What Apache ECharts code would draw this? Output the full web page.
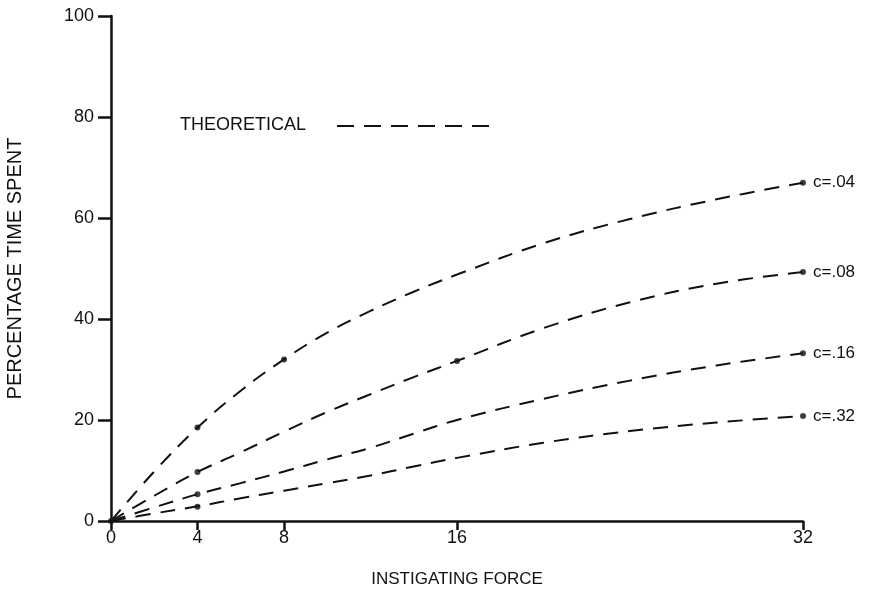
<!DOCTYPE html>
<html>
<head>
<meta charset="utf-8">
<script src="https://cdn.jsdelivr.net/npm/echarts@6/dist/echarts.min.js"></script>
<style>
  html, body { margin: 0; padding: 0; background: #fff; }
  #chart { width: 869px; height: 594px; }
</style>
</head>
<body>
<div id="chart"></div>
<script>
// Instigating force sampled along each theoretical curve
const forceSteps = [0, 2, 4, 6, 8, 10, 12, 14, 16, 20, 24, 28, 32];

// Percentage of time spent for each value of c
const curveC04 = [0, 9.8, 18.5, 25.8, 32, 37.3, 41.6, 45.4, 48.8, 55, 59.8, 63.7, 67];
const curveC08 = [0, 5, 9.7, 13.6, 17.7, 21.6, 25.1, 28.5, 31.7, 38.2, 43.3, 47, 49.3];
const curveC16 = [0, 2.7, 5.3, 7.5, 9.8, 12.2, 14.5, 17.3, 20, 24.2, 27.8, 30.8, 33.2];
const curveC32 = [0, 1.5, 2.9, 4.5, 6, 7.5, 9, 10.8, 12.5, 15.5, 17.8, 19.5, 20.8];

// Computed points marked with a dot
const dotsC04 = [[0, 0], [4, 18.5], [8, 32], [32, 67]];
const dotsC08 = [[4, 9.7], [16, 31.7], [32, 49.3]];
const dotsC16 = [[4, 5.3], [32, 33.2]];
const dotsC32 = [[4, 2.8], [32, 20.8]];

const curveLabels = ['c=.04', 'c=.08', 'c=.16', 'c=.32'];
const xTickValues = [0, 4, 8, 16, 32];

const ink = '#111';
const fontFamily = '"Liberation Sans", Arial, sans-serif';

const curves = [curveC04, curveC08, curveC16, curveC32];
const dots = [dotsC04, dotsC08, dotsC16, dotsC32];

const series = [];
curves.forEach((values, i) => {
  series.push({
    type: 'line',
    name: curveLabels[i],
    data: forceSteps.map((f, k) => [f, values[k]]),
    smooth: 0.4,
    symbol: 'none',
    lineStyle: { color: ink, width: 2, type: [15, 10] },
    endLabel: {
      show: true,
      formatter: curveLabels[i],
      color: ink,
      fontSize: 17,
      fontFamily: fontFamily,
      distance: 10
    },
    animation: false,
    z: 2
  });
  series.push({
    type: 'scatter',
    name: curveLabels[i] + ' points',
    data: dots[i],
    symbol: 'circle',
    symbolSize: 6,
    itemStyle: { color: ink },
    animation: false,
    z: 3
  });
});

const chart = echarts.init(document.getElementById('chart'), null, { renderer: 'canvas' });
chart.setOption({
  backgroundColor: '#fff',
  animation: false,
  grid: { left: 111, right: 66, top: 16, bottom: 73, containLabel: false, outerBoundsMode: 'none' },
  xAxis: {
    type: 'value',
    min: 0,
    max: 32,
    name: 'INSTIGATING FORCE',
    nameLocation: 'middle',
    nameGap: 50,
    nameTextStyle: { color: ink, fontSize: 17, fontFamily: fontFamily },
    splitLine: { show: false },
    axisLine: { show: true, onZero: false, lineStyle: { color: ink, width: 2.5 } },
    axisTick: { show: true, inside: false, length: 9, customValues: xTickValues, lineStyle: { color: ink, width: 2.5 } },
    axisLabel: { customValues: xTickValues, color: ink, fontSize: 18, fontFamily: fontFamily, margin: 8 }
  },
  yAxis: {
    type: 'value',
    min: 0,
    max: 100,
    interval: 20,
    name: 'PERCENTAGE TIME SPENT',
    nameLocation: 'middle',
    nameGap: 86,
    nameRotate: 90,
    nameTextStyle: { color: ink, fontSize: 20, fontFamily: fontFamily },
    splitLine: { show: false },
    axisLine: { show: true, lineStyle: { color: ink, width: 2.5 } },
    axisTick: { show: true, inside: false, length: 13, lineStyle: { color: ink, width: 2.5 } },
    axisLabel: { color: ink, fontSize: 18, fontFamily: fontFamily, margin: 17 }
  },
  graphic: [
    {
      type: 'text',
      left: 180,
      top: 116,
      style: { text: 'THEORETICAL', fill: ink, fontSize: 18, fontFamily: fontFamily }
    },
    {
      type: 'line',
      shape: { x1: 337, y1: 126, x2: 496, y2: 126 },
      style: { stroke: ink, lineWidth: 1.8, lineDash: [17, 10] }
    }
  ],
  series: series
});
</script>
</body>
</html>
